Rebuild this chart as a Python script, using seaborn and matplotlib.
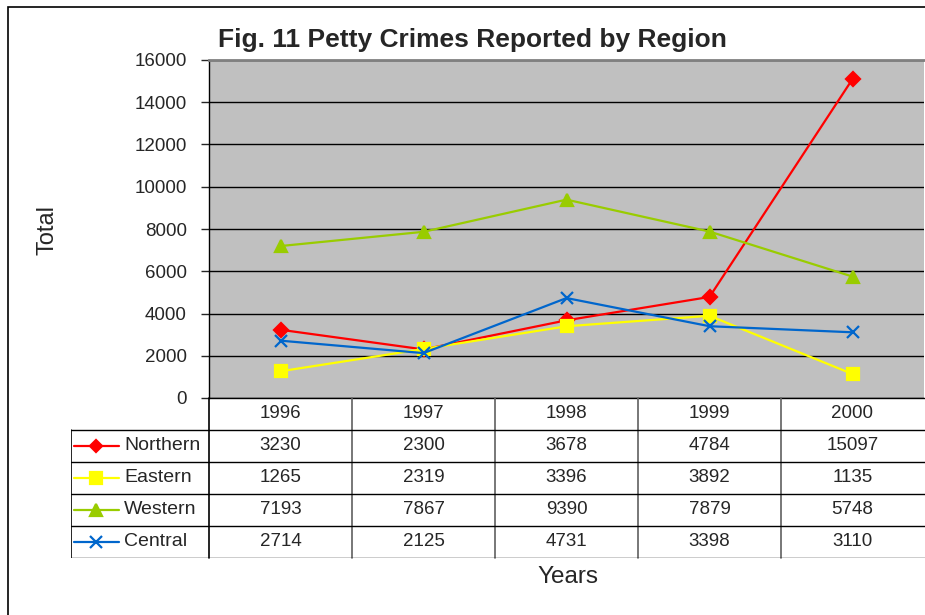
import matplotlib
matplotlib.use("Agg")
import matplotlib.pyplot as plt
from matplotlib.lines import Line2D
from matplotlib.patches import Rectangle
import seaborn as sns
import pandas as pd

years = ["1996", "1997", "1998", "1999", "2000"]
regions = ["Northern", "Eastern", "Western", "Central"]
northern = [3230, 2300, 3678, 4784, 15097]
eastern = [1265, 2319, 3396, 3892, 1135]
western = [7193, 7867, 9390, 7879, 5748]
central = [2714, 2125, 4731, 3398, 3110]

colors = {"Northern": "#FF0000", "Eastern": "#FFFF00", "Western": "#99CC00", "Central": "#0066CC"}
markers = {"Northern": "D", "Eastern": "s", "Western": "^", "Central": "x"}
msize = {"Northern": 7, "Eastern": 9, "Western": 9, "Central": 9}

values = {"Northern": northern, "Eastern": eastern, "Western": western, "Central": central}
df = pd.DataFrame([(r, y, v) for r in regions for y, v in zip(years, values[r])],
                  columns=["Region", "Year", "Total"])

sns.set_style("white")
plt.rcParams["font.family"] = ["Liberation Sans", "DejaVu Sans"]

W, H = 925, 615
fig = plt.figure(figsize=(W / 100, H / 100), dpi=100)

def fx(px):
    return px / W

def fy(py):
    return 1 - py / H

# outer frame
fig.patches.append(Rectangle((fx(8), fy(640)), fx(940) - fx(8), fy(7) - fy(640),
                             transform=fig.transFigure, fill=False, edgecolor="black", lw=1.2))

left, right, top, bottom = 209, 924, 60, 398
ax = fig.add_axes([fx(left), fy(bottom), fx(right) - fx(left), fy(top) - fy(bottom)])
ax.set_facecolor("#C0C0C0")

for r in regions:
    sub = df[df["Region"] == r]
    sns.lineplot(data=sub, x="Year", y="Total", ax=ax, color=colors[r], marker=markers[r],
                 markersize=msize[r], markeredgecolor=colors[r], markeredgewidth=1.6,
                 lw=1.6, sort=False, legend=False)

ax.set_xlim(-0.5, len(years) - 0.5)
ax.set_ylim(0, 16000)
ax.set_yticks(range(0, 16001, 2000))
ax.yaxis.grid(True, color="black", lw=1)
ax.set_axisbelow(True)
ax.set_xticks([])
ax.set_xlabel("")
ax.set_ylabel("")
ax.tick_params(axis="y", left=True, length=6, width=1, labelsize=13.5, pad=10)
for s in ["left", "bottom"]:
    ax.spines[s].set_color("black")
    ax.spines[s].set_linewidth(1)
ax.spines["top"].set_color("#808080")
ax.spines["top"].set_linewidth(2)
ax.spines["right"].set_visible(False)

fig.text(fx(472), fy(40), "Fig. 11 Petty Crimes Reported by Region", ha="center", va="center",
         fontsize=19, fontweight="bold")
fig.text(fx(48), fy(230), "Total", rotation=90, ha="center", va="center", fontsize=17)
fig.text(fx(568), fy(577), "Years", ha="center", va="center", fontsize=17.5)

# data table under the plot
tleft, ttop, tbot = 71, 398, 558
tab = fig.add_axes([fx(tleft), fy(tbot), fx(W) - fx(tleft), fy(ttop) - fy(tbot)])
tab.set_xlim(tleft, W)
tab.set_ylim(tbot, ttop)
tab.axis("off")
colw = (right - left) / len(years)
rowh = (tbot - ttop) / (len(regions) + 1)

for i in range(len(years)):
    x = left + i * colw
    tab.plot([x, x], [ttop, tbot], color="#606060" if i > 0 else "black", lw=1.2, clip_on=False)
tab.plot([tleft, tleft], [ttop + rowh, tbot], color="black", lw=1.2)
for j in range(1, len(regions) + 2):
    y = ttop + j * rowh
    tab.plot([tleft, W], [y, y], color="black", lw=1)

for i, yr in enumerate(years):
    tab.text(left + (i + 0.5) * colw, ttop + 0.5 * rowh, yr, ha="center", va="center", fontsize=13.5)
for j, r in enumerate(regions):
    yc = ttop + (j + 1.5) * rowh
    tab.add_line(Line2D([74, 119], [yc, yc], color=colors[r], lw=1.6))
    tab.plot([96], [yc], marker=markers[r], color=colors[r], markersize=msize[r] - 1,
             markeredgewidth=1.6, linestyle="none")
    tab.text(124, yc, r, ha="left", va="center", fontsize=14)
    for i, v in enumerate(values[r]):
        tab.text(left + (i + 0.5) * colw, yc, str(v), ha="center", va="center", fontsize=13.5)

fig.savefig("out.png", dpi=100, facecolor="white")
